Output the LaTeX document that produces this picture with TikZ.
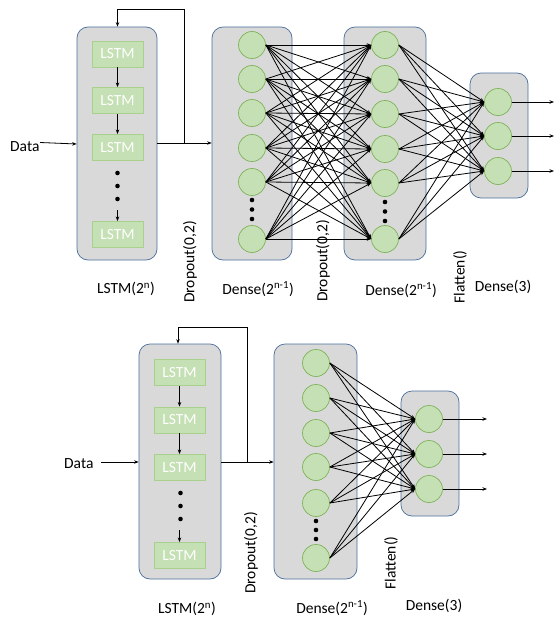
\documentclass[tikz,border=0pt]{standalone}
\usepackage{fontspec}
\setmainfont{Carlito}
\usetikzlibrary{arrows.meta}
\definecolor{panelgray}{HTML}{D9D9D9}
\definecolor{panelblue}{HTML}{4A6E9C}
\definecolor{cellfill}{HTML}{C5E0B4}
\definecolor{boxedge}{HTML}{A9D18E}
\definecolor{neuronedge}{HTML}{7FB35A}
\tikzset{
  panel/.style={draw=panelblue, fill=panelgray, rounded corners=11pt, line width=0.7pt, inner sep=0},
  lstmbox/.style={draw=boxedge, fill=cellfill, line width=0.9pt, minimum width=51pt, minimum height=26pt,
    inner sep=0, text=white, font=\fontsize{15.5}{17}\selectfont},
  neuron/.style={circle, draw=neuronedge, fill=cellfill, line width=0.7pt, minimum size=27pt, inner sep=0},
  dotmark/.style={circle, fill=black, minimum size=4.6pt, inner sep=0},
  arr/.style={-{Stealth[length=4.5pt,width=3.5pt]}, line width=0.8pt},
  link/.style={line width=0.8pt},
  lbl/.style={font=\fontsize{15.5}{17}\selectfont, inner sep=0}
}
\begin{document}
\begin{tikzpicture}[x=1pt,y=-1pt]
\useasboundingbox (0,0) rectangle (555,618);

% ================= upper network =================
% panels
\node[panel, minimum width=80pt, minimum height=233pt] (lstmA) at (117,143.5) {};
\node[panel, minimum width=80pt, minimum height=233pt] (denA) at (252,143.5) {};
\node[panel, minimum width=82pt, minimum height=233pt] (denB) at (385,143.5) {};
\node[panel, minimum width=58pt, minimum height=125pt] (denC) at (499,135.5) {};

% LSTM cells
\node[lstmbox] (la1) at (117.5,54) {LSTM};
\node[lstmbox] (la2) at (117.5,100.5) {LSTM};
\node[lstmbox] (la3) at (117.5,147.5) {LSTM};
\node[lstmbox] (la4) at (117.5,234.5) {LSTM};
\node[dotmark] (lad1) at (117.5,173) {};
\node[dotmark] (lad2) at (117.5,186) {};
\node[dotmark] (lad3) at (117.5,199) {};
\coordinate (lastart) at (117.5,210);
\draw[arr] (la1) -- (la2);
\draw[arr] (la2) -- (la3);
\draw[arr] (lastart) -- (la4);

% first dense layer
\foreach \i/\y in {1/45,2/79,3/113,4/148,5/182,6/239}
  \node[neuron] (a\i) at (252,\y) {};
\foreach \i/\y in {1/200,2/209.5,3/219}
  \node[dotmark] (ad\i) at (252,\y) {};

% second dense layer
\foreach \i/\y in {1/45,2/79,3/114,4/149,5/183,6/239}
  \node[neuron] (b\i) at (385,\y) {};
\foreach \i/\y in {1/202,2/211.5,3/221}
  \node[dotmark] (bd\i) at (385,\y) {};

% output layer
\foreach \i/\y in {1/102,2/136,3/171}
  \node[neuron] (c\i) at (498,\y) {};

% input, recurrent feedback and layer links
\node[lbl, anchor=west] (dataA) at (10,147) {Data};
\coordinate (dataAend) at (40,142.5);
\draw[arr] (dataAend) -- (lstmA.west |- 0,144);
\coordinate (splitA) at (184,143);
\draw[link] (lstmA.east |- splitA) -- (splitA);
\draw[arr] (splitA) -- (denA.west |- splitA);
\draw[arr] (splitA) -- (184,9) -| (lstmA.north -| la1);

\foreach \i in {1,...,6}
  \foreach \j in {1,...,6}
    \draw[arr] (a\i.east) -- (b\j.west);
\foreach \i in {1,...,6}
  \foreach \j in {1,...,3}
    \draw[arr] (b\i.east) -- (c\j.west);
\foreach \j in {1,...,3} {
  \coordinate (outA\j) at (554,0 |- c\j);
  \draw[arr] (c\j.east) -- (outA\j);
}

% captions
\node[lbl] (capA1) at (126,289) {LSTM(2\textsuperscript{n})};
\node[lbl, rotate=90] (capA2) at (190,262) {Dropout(0,2)};
\node[lbl] (capA3) at (258,289) {Dense(2\textsuperscript{n-1})};
\node[lbl, rotate=90] (capA4) at (323,261) {Dropout(0,2)};
\node[lbl] (capA5) at (401,290) {Dense(2\textsuperscript{n-1})};
\node[lbl, rotate=90] (capA6) at (460,277) {Flatten()};
\node[lbl] (capA7) at (503,287) {Dense(3)};

% ================= lower network =================
\node[panel, minimum width=82pt, minimum height=235pt] (lstmB) at (180,461.5) {};
\node[panel, minimum width=83pt, minimum height=235pt] (denD) at (315.5,461.5) {};
\node[panel, minimum width=58pt, minimum height=125pt] (denE) at (430,453.5) {};

\node[lstmbox] (lb1) at (179.5,372.5) {LSTM};
\node[lstmbox] (lb2) at (179.5,420) {LSTM};
\node[lstmbox] (lb3) at (179.5,467.5) {LSTM};
\node[lstmbox] (lb4) at (179.5,555.5) {LSTM};
\node[dotmark] (lbd1) at (180.5,493) {};
\node[dotmark] (lbd2) at (180.5,506) {};
\node[dotmark] (lbd3) at (180.5,519) {};
\coordinate (lbstart) at (179.5,530);
\draw[arr] (lb1) -- (lb2);
\draw[arr] (lb2) -- (lb3);
\draw[arr] (lbstart) -- (lb4);

\foreach \i/\y in {1/363,2/398,3/433,4/467,5/503,6/558}
  \node[neuron] (d\i) at (316,\y) {};
\foreach \i/\y in {1/521,2/530,3/539}
  \node[dotmark] (dd\i) at (316,\y) {};

\foreach \i/\y in {1/419,2/454,3/489}
  \node[neuron] (e\i) at (429,\y) {};

\node[lbl, anchor=west] (dataB) at (64,464) {Data};
\coordinate (dataBend) at (101,462);
\draw[arr] (dataBend) -- (lstmB.west |- dataBend);
\coordinate (splitB) at (247,462);
\draw[link] (lstmB.east |- splitB) -- (splitB);
\draw[arr] (splitB) -- (denD.west |- splitB);
\draw[arr] (splitB) -- (247,327) -| (lstmB.north -| 178,0);

\foreach \i in {1,...,6}
  \foreach \j in {1,...,3}
    \draw[arr] (d\i.east) -- (e\j.west);
\foreach \j in {1,...,3} {
  \coordinate (outB\j) at (487,0 |- e\j);
  \draw[arr] (e\j.east) -- (outB\j);
}

\node[lbl] (capB1) at (187,609) {LSTM(2\textsuperscript{n})};
\node[lbl, rotate=90] (capB2) at (251,553) {Dropout(0,2)};
\node[lbl] (capB3) at (332,608) {Dense(2\textsuperscript{n-1})};
\node[lbl, rotate=90] (capB4) at (391,563) {Flatten()};
\node[lbl] (capB5) at (434,606) {Dense(3)};
\end{tikzpicture}
\end{document}
